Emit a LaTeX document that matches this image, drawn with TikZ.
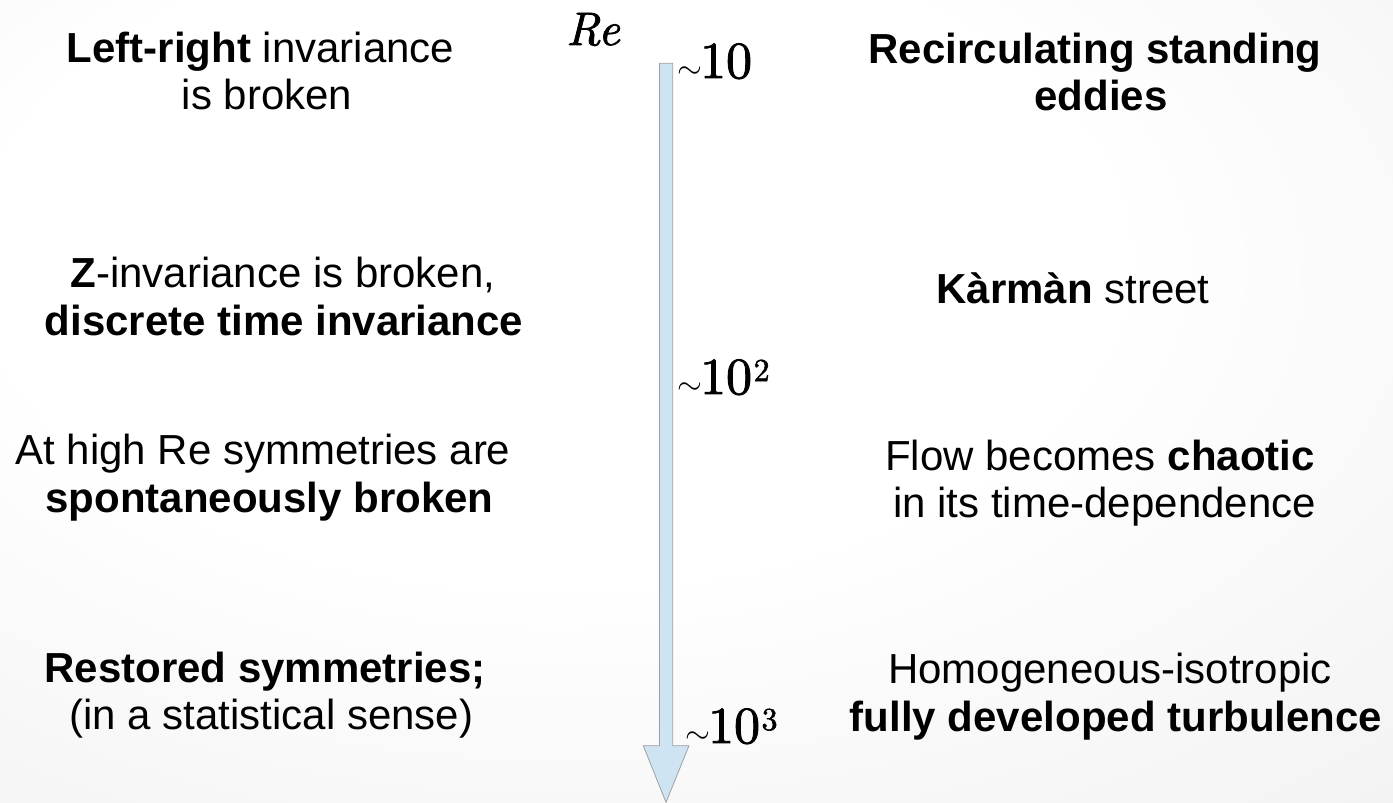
\documentclass[tikz,border=0pt]{standalone}
\usepackage{fontspec}
\newfontfamily\sansf{Liberation Sans}
\newfontfamily\lmten[FakeBold=1.6]{lmroman10-regular.otf}
\newfontfamily\lmtenit[FakeBold=1.6]{lmroman10-italic.otf}
\font\cmsytl=cmsy10 at 32pt
\pgfdeclareradialshading{bgshade}{\pgfpoint{-7bp}{12bp}}{color(0bp)=(white); color(20bp)=(white); color(80bp)=(black!13)}
\definecolor{arrowfill}{HTML}{CFE4F3}
\definecolor{arrowline}{HTML}{A0A0A0}
\newcommand{\tlde}{{\cmsytl\char"18}\kern-2pt}
\newcommand{\tennum}{{\lmten\fontsize{52}{52}\selectfont 10}}
\newcommand{\supnum}[1]{\kern1.5pt\raisebox{13pt}{\lmten\fontsize{32}{32}\selectfont #1}}
\begin{document}
\begin{tikzpicture}[x=1pt,y=-1pt,
  txt/.style={anchor=base, inner sep=0pt, font=\sansf\fontsize{42}{48}\selectfont},
  num/.style={anchor=base west, inner sep=0pt},
  blockarrow/.style={fill=arrowfill, draw=arrowline, line width=0.8pt, line join=miter}]
\shade[shading=bgshade] (0,0) rectangle (1393,803);
\useasboundingbox (0,0) rectangle (1393,803);

% arrow
\draw[blockarrow] (659.5,63.3) -- (672.7,63.3) -- (672.7,745.7) -- (689,745.7)
  -- (666,802.3) -- (643.3,745.7) -- (659.5,745.7) -- cycle;

% axis labels
\node[num] (re) at (566,45) {\lmtenit\fontsize{47}{47}\selectfont Re};
\node[num] (n1) at (677,78) {\tlde\tennum};
\node[num] (n2) at (677,394) {\tlde\tennum\supnum{2}};
\node[num] (n3) at (685,743) {\tlde\tennum\supnum{3}};

% left column
\node[txt] (l1a) at (260.5,62.5) {\textbf{Left-right} invariance};
\node[txt] (l1b) at (267,109.5) {is broken};
\node[txt] (l2a) at (283,287) {\textbf{Z}-invariance is broken,};
\node[txt] (l2b) at (284,335) {\textbf{discrete time invariance}};
\node[txt] (l3a) at (263,464) {At high Re symmetries are};
\node[txt] (l3b) at (269.6,512) {\textbf{spontaneously broken}};
\node[txt] (l4a) at (265,682) {\textbf{Restored symmetries;}};
\node[txt] (l4b) at (271.5,729) {(in a statistical sense)};

% right column
\node[txt] (r1a) at (1095,63) {\textbf{Recirculating standing}};
\node[txt] (r1b) at (1101,110) {\textbf{eddies}};
\node[txt] (r2) at (1073,303) {\textbf{Kàrmàn} street};
\node[txt] (r3a) at (1100,470) {Flow becomes \textbf{chaotic}};
\node[txt] (r3b) at (1104.6,517.5) {in its time-dependence};
\node[txt] (r4a) at (1110,683) {Homogeneous-isotropic};
\node[txt] (r4b) at (1116,731.5) {\textbf{fully developed turbulence}};
\end{tikzpicture}
\end{document}
